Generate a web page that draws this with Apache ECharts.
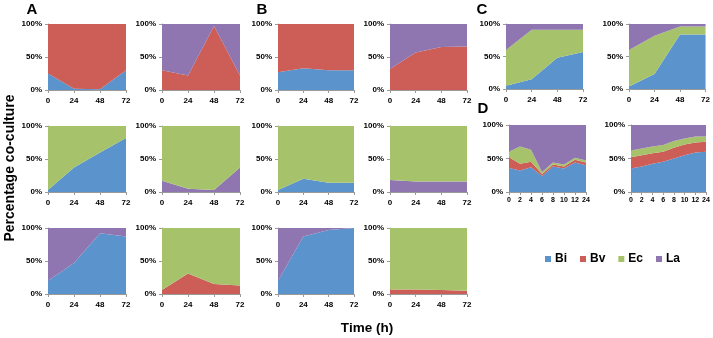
<!DOCTYPE html>
<html>
<head>
<meta charset="utf-8">
<script src="https://cdn.jsdelivr.net/npm/echarts@6/dist/echarts.min.js"></script>
<style>
  html, body {margin: 0; padding: 0; background: #fff;}
  #main {width: 713px; height: 338px;}
</style>
</head>
<body>
<div id="main"></div>
<script>
// x categories
const hours = ['0', '24', '48', '72'];
const hoursD = ['0', '2', '4', '6', '8', '10', '12', '24'];

// panel A (pairs)
const a1Bi = [25, 2, 1, 30];
const a1Bv = [75, 98, 99, 70];
const a2Bv = [30, 22, 97, 22];
const a2La = [70, 78, 3, 78];
const a3Bi = [3, 37, 60, 82];
const a3Ec = [97, 63, 40, 18];
const a4La = [17, 5, 3, 37];
const a4Ec = [83, 95, 97, 63];
const a5Bi = [20, 47, 92, 87];
const a5La = [80, 53, 8, 13];
const a6Bv = [6, 31, 15, 13];
const a6Ec = [94, 69, 85, 87];

// panel B (pairs)
const b1Bi = [27, 33, 30, 30];
const b1Bv = [73, 67, 70, 70];
const b2Bv = [32, 57, 65, 66];
const b2La = [68, 43, 35, 34];
const b3Bi = [3, 20, 14, 14];
const b3Ec = [97, 80, 86, 86];
const b4La = [18, 16, 16, 16];
const b4Ec = [82, 84, 84, 84];
const b5Bi = [20, 87, 97, 100];
const b5La = [80, 13, 3, 0];
const b6Bv = [7, 7, 6, 5];
const b6Ec = [93, 93, 94, 95];

// panel C (three species)
const c1Bi = [5, 15, 48, 57];
const c1Ec = [55, 76, 43, 34];
const c1La = [40, 9, 9, 9];
const c2Bi = [4, 23, 84, 84];
const c2Ec = [56, 59, 12, 12];
const c2La = [40, 18, 4, 4];

// panel D (four species)
const d1Bi = [36, 32, 37, 24, 38, 35, 44, 40];
const d1Bv = [16, 10, 8, 3, 3, 3, 4, 4];
const d1Ec = [8, 26, 18, 3, 3, 3, 3, 3];
const d1La = [40, 32, 37, 70, 56, 59, 49, 53];
const d2Bi = [35, 38, 42, 45, 50, 55, 59, 60];
const d2Bv = [17, 17, 16, 15, 16, 16, 15, 15];
const d2Ec = [10, 10, 10, 10, 10, 9, 9, 8];
const d2La = [38, 35, 32, 30, 24, 20, 17, 17];

const colors = {Bi: '#5b93cd', Bv: '#cd5d57', Ec: '#a6c36b', La: '#8f76b1'};

// grid boxes
const panels = [
  {box: [48, 24, 78, 66], cats: hours, stack: [['Bi', a1Bi], ['Bv', a1Bv]]},
  {box: [162, 24, 78, 66], cats: hours, stack: [['Bv', a2Bv], ['La', a2La]]},
  {box: [48, 126, 78, 66], cats: hours, stack: [['Bi', a3Bi], ['Ec', a3Ec]]},
  {box: [162, 126, 78, 66], cats: hours, stack: [['La', a4La], ['Ec', a4Ec]]},
  {box: [48, 228, 78, 66], cats: hours, stack: [['Bi', a5Bi], ['La', a5La]]},
  {box: [162, 228, 78, 66], cats: hours, stack: [['Bv', a6Bv], ['Ec', a6Ec]]},
  {box: [278, 24, 76, 66], cats: hours, stack: [['Bi', b1Bi], ['Bv', b1Bv]]},
  {box: [390, 24, 77, 66], cats: hours, stack: [['Bv', b2Bv], ['La', b2La]]},
  {box: [278, 126, 76, 66], cats: hours, stack: [['Bi', b3Bi], ['Ec', b3Ec]]},
  {box: [390, 126, 77, 66], cats: hours, stack: [['La', b4La], ['Ec', b4Ec]]},
  {box: [278, 228, 76, 66], cats: hours, stack: [['Bi', b5Bi], ['La', b5La]]},
  {box: [390, 228, 77, 66], cats: hours, stack: [['Bv', b6Bv], ['Ec', b6Ec]]},
  {box: [506, 24, 77, 65], cats: hours, stack: [['Bi', c1Bi], ['Ec', c1Ec], ['La', c1La]]},
  {box: [629, 24, 77, 65], cats: hours, stack: [['Bi', c2Bi], ['Ec', c2Ec], ['La', c2La]]},
  {box: [509, 125, 77, 67], cats: hoursD, small: true, stack: [['Bi', d1Bi], ['Bv', d1Bv], ['Ec', d1Ec], ['La', d1La]]},
  {box: [631, 125, 75, 67], cats: hoursD, small: true, stack: [['Bi', d2Bi], ['Bv', d2Bv], ['Ec', d2Ec], ['La', d2La]]}
];

const font = 'Liberation Sans, Arial, sans-serif';
const axisLine = {show: true, lineStyle: {color: '#9a9a9a', width: 1}};

let grid = [], xAxis = [], yAxis = [], series = [];
panels.forEach((p, i) => {
  grid.push({left: p.box[0], top: p.box[1], width: p.box[2], height: p.box[3]});
  xAxis.push({
    type: 'category', gridIndex: i, data: p.cats, boundaryGap: false,
    axisLine: axisLine,
    axisTick: {show: true, length: 3, interval: 0, lineStyle: {color: '#9a9a9a'}},
    axisLabel: {interval: 0, margin: p.small ? 5 : 7, color: '#000', fontWeight: 'bold',
      fontSize: p.small ? 7 : 8, fontFamily: font, hideOverlap: false},
    splitLine: {show: false}
  });
  yAxis.push({
    type: 'value', gridIndex: i, min: 0, max: 100, interval: 50,
    axisLine: axisLine,
    axisTick: {show: true, length: 3, lineStyle: {color: '#9a9a9a'}},
    axisLabel: {formatter: '{value}%', margin: 6, color: '#000', fontWeight: 'bold',
      fontSize: 8, fontFamily: font},
    splitLine: {show: false}
  });
  p.stack.forEach(s => {
    series.push({
      name: s[0], type: 'line', xAxisIndex: i, yAxisIndex: i,
      stack: 'p' + i, data: s[1], symbol: 'none', silent: true,
      lineStyle: {width: 0}, areaStyle: {color: colors[s[0]], opacity: 1},
      itemStyle: {color: colors[s[0]]}
    });
  });
});

const letter = (t, x, y) => ({type: 'text', x: x, y: y,
  style: {text: t, font: 'bold 15px ' + font, fill: '#000', textAlign: 'center', textVerticalAlign: 'middle'}});

const myChart = echarts.init(document.getElementById('main'));
myChart.setOption({
  backgroundColor: '#fff',
  animation: false,
  grid: grid,
  xAxis: xAxis,
  yAxis: yAxis,
  series: series,
  legend: {
    data: ['Bi', 'Bv', 'Ec', 'La'],
    left: 540, top: 248, icon: 'rect', itemWidth: 6, itemHeight: 6, itemGap: 13,
    textStyle: {fontSize: 12, fontWeight: 'bold', fontFamily: font, color: '#000', padding: [0, 0, 0, -1]}
  },
  graphic: [
    letter('A', 32, 10),
    letter('B', 262, 10),
    letter('C', 482, 10),
    letter('D', 483, 109),
    {type: 'text', x: 367, y: 328,
      style: {text: 'Time (h)', font: 'bold 13.5px ' + font, fill: '#000', textAlign: 'center', textVerticalAlign: 'middle'}},
    {type: 'text', x: 10, y: 168, rotation: Math.PI / 2,
      style: {text: 'Percentage co-culture', font: 'bold 14px ' + font, fill: '#000', textAlign: 'center', textVerticalAlign: 'middle'}}
  ]
});
</script>
</body>
</html>
